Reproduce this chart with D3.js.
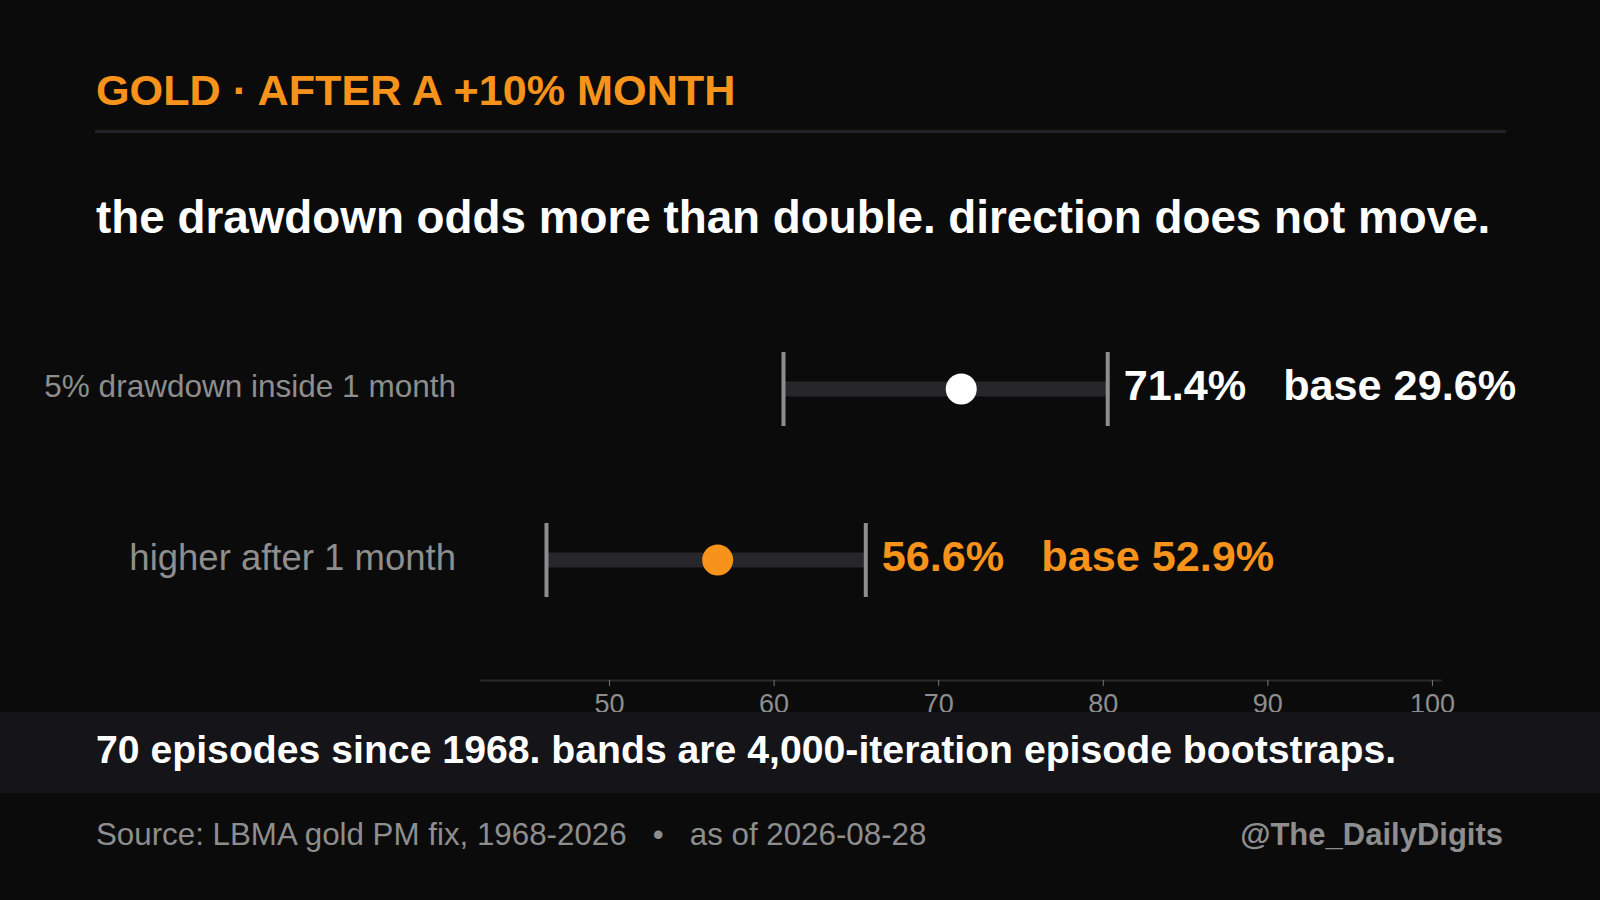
<!DOCTYPE html>
<html>
<head>
<meta charset="utf-8">
<script src="https://cdn.jsdelivr.net/npm/d3@7"></script>
<style>
  body { margin: 0; background: #0b0b0c; }
  svg { display: block; font-family: "Liberation Sans", Arial, sans-serif; }
</style>
</head>
<body>
<svg id="chart" width="1600" height="900"></svg>
<script>
// chart data
const categories = ["5% drawdown inside 1 month", "higher after 1 month"];
const estimates = [71.4, 56.6];
const lows = [60.6, 46.2];
const highs = [80.3, 65.6];
const bases = [29.6, 52.9];
const tickValues = [50, 60, 70, 80, 90, 100];

// styles
const bg = "#0b0b0c";
const orange = "#f7931a";
const rowColors = ["#ffffff", orange];
const grey = "#8e8e8e";

const svg = d3.select("#chart");

svg.append("rect")
  .attr("width", 1600)
  .attr("height", 900)
  .attr("fill", bg);

// header
svg.append("text")
  .attr("x", 96)
  .attr("y", 105)
  .attr("fill", orange)
  .attr("font-size", 43.2)
  .attr("font-weight", "bold")
  .text("GOLD \u00b7 AFTER A +10% MONTH");

svg.append("rect")
  .attr("x", 95)
  .attr("y", 130)
  .attr("width", 1411)
  .attr("height", 3)
  .attr("fill", "#222226");

svg.append("text")
  .attr("x", 96)
  .attr("y", 233)
  .attr("fill", "#ffffff")
  .attr("font-size", 45.8)
  .attr("font-weight", "bold")
  .text("the drawdown odds more than double. direction does not move.");

// scales
const x = d3.scaleLinear().domain([42.16, 100.55]).range([480, 1441]);
const y = d3.scalePoint().domain(categories).range([389, 560]);

// axis
const axis = svg.append("g")
  .attr("transform", "translate(0,680)")
  .call(d3.axisBottom(x).tickValues(tickValues).tickSize(6).tickSizeOuter(0).tickPadding(8));
axis.select(".domain").attr("stroke", "#2a2a2f").attr("stroke-width", 2);
axis.selectAll(".tick line").attr("stroke", "#777");
axis.selectAll(".tick text")
  .attr("fill", grey)
  .attr("font-size", 27)
  .attr("font-family", "Liberation Sans, Arial, sans-serif");

// rows
categories.forEach(function (cat, i) {
  const cy = y(cat);
  const g = svg.append("g");

  const label = g.append("text")
    .attr("x", 456)
    .attr("y", cy)
    .attr("text-anchor", "end")
    .attr("dominant-baseline", "middle")
    .attr("fill", grey)
    .attr("font-size", 36.5)
    .text(cat);
  // long labels get shrunk to fit the label column
  const maxW = 412;
  const w = label.node().getComputedTextLength();
  if (w > maxW) label.attr("font-size", 36.5 * maxW / w);

  g.append("rect")
    .attr("x", x(lows[i]))
    .attr("y", cy - 7.5)
    .attr("width", x(highs[i]) - x(lows[i]))
    .attr("height", 15)
    .attr("fill", "#26262b");

  [lows[i], highs[i]].forEach(function (v) {
    g.append("rect")
      .attr("x", x(v) - 2)
      .attr("y", cy - 37)
      .attr("width", 4)
      .attr("height", 74)
      .attr("fill", grey);
  });

  g.append("circle")
    .attr("cx", x(estimates[i]))
    .attr("cy", cy)
    .attr("r", 15.5)
    .attr("fill", rowColors[i]);

  const val = g.append("text")
    .attr("x", x(highs[i]) + 16)
    .attr("y", cy + 11)
    .attr("fill", rowColors[i])
    .attr("font-size", 43.2)
    .attr("font-weight", "bold")
    .text(estimates[i].toFixed(1) + "%");

  const vEnd = x(highs[i]) + 16 + val.node().getComputedTextLength();
  g.append("text")
    .attr("x", vEnd + 37)
    .attr("y", cy + 11)
    .attr("fill", rowColors[i])
    .attr("font-size", 43.2)
    .attr("font-weight", "bold")
    .text("base " + bases[i].toFixed(1) + "%");
});

// footer band
svg.append("rect")
  .attr("x", 0)
  .attr("y", 712)
  .attr("width", 1600)
  .attr("height", 81)
  .attr("fill", "#141419");

svg.append("text")
  .attr("x", 96)
  .attr("y", 763)
  .attr("fill", "#ffffff")
  .attr("font-size", 39.2)
  .attr("font-weight", "bold")
  .text("70 episodes since 1968. bands are 4,000-iteration episode bootstraps.");

svg.append("text")
  .attr("x", 96)
  .attr("y", 845)
  .attr("fill", grey)
  .attr("font-size", 31.3)
  .style("white-space", "pre")
  .text("Source: LBMA gold PM fix, 1968-2026   \u2022   as of 2026-08-28");

svg.append("text")
  .attr("x", 1503)
  .attr("y", 845)
  .attr("text-anchor", "end")
  .attr("fill", grey)
  .attr("font-size", 31)
  .attr("font-weight", "bold")
  .text("@The_DailyDigits");
</script>
</body>
</html>
